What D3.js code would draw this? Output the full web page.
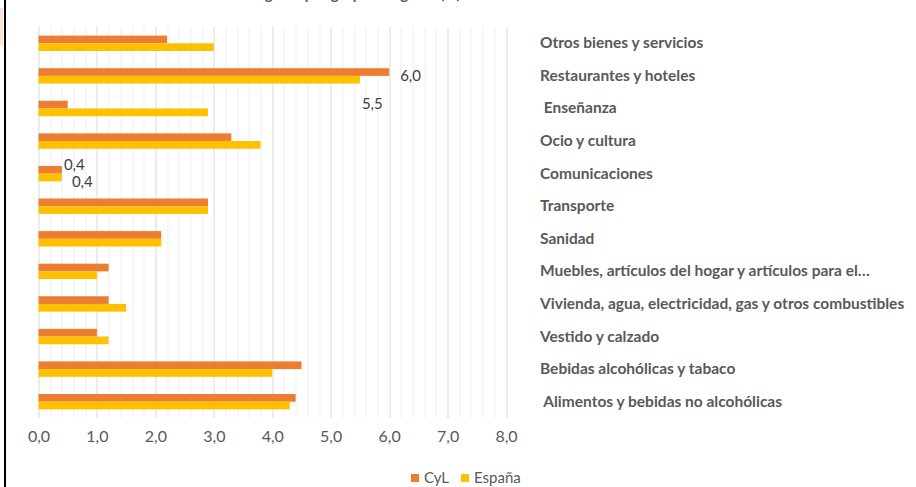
<!DOCTYPE html>
<html>
<head>
<meta charset="utf-8">
<script src="https://cdn.jsdelivr.net/npm/d3@7"></script>
<style>
  body { margin: 0; background: #fff; }
  svg { display: block; }
  .tick text { font-family: Lato, "Open Sans", sans-serif; font-size: 16px; fill: #595959; }
  .cat { font-family: Lato, "Open Sans", sans-serif; font-size: 15.5px; font-weight: bold; fill: #595959; }
  .lbl { font-family: Lato, "Open Sans", sans-serif; font-size: 15px; fill: #404040; }
</style>
</head>
<body>
<div id="graphic"></div>
<script>
// categories, top to bottom
var categories = ["Otros bienes y servicios", "Restaurantes y hoteles", " Enseñanza", "Ocio y cultura",
    "Comunicaciones", "Transporte", "Sanidad", "Muebles, artículos del hogar y artículos para el…",
    "Vivienda, agua, electricidad, gas y otros combustibles", "Vestido y calzado",
    "Bebidas alcohólicas y tabaco", " Alimentos y bebidas no alcohólicas"];
var cyl    = [2.2, 6.0, 0.5, 3.3, 0.4, 2.9, 2.1, 1.2, 1.2, 1.0, 4.5, 4.4];
var espana = [3.0, 5.5, 2.9, 3.8, 0.4, 2.9, 2.1, 1.0, 1.5, 1.2, 4.0, 4.3];
var seriesNames = ["CyL", "España"];
var colors = ["#ED7D31", "#FFC000"];
var xTicks = [0, 1, 2, 3, 4, 5, 6, 7, 8];
// data labels that are shown in the picture: [series, category index, dx, dy]
var shownLabels = [[0, 1, 11, 5], [1, 1, 2, 33], [0, 4, 2, -4], [1, 4, 10, 13]];

var W = 916, H = 487;
var margin = {top: 27, left: 38.5, right: 410, bottom: 69};
var width = W - margin.left - margin.right,
    height = H - margin.top - margin.bottom;

var svg = d3.select("#graphic").append("svg")
    .attr("width", W)
    .attr("height", H);

// bits of the page around the chart
svg.append("rect").attr("x", 0).attr("y", 8).attr("width", 3).attr("height", 37).attr("fill", "#fbe3d6");
svg.append("rect").attr("x", 4).attr("y", 0).attr("width", 2).attr("height", H).attr("fill", "#000");

// title, mostly cut off at the top edge
svg.append("text")
    .attr("x", 318).attr("y", -1)
    .attr("text-anchor", "middle")
    .attr("font-family", "Lato, sans-serif").attr("font-weight", "bold")
    .attr("font-size", 15).attr("fill", "#595959")
    .text("Variación del gasto por grupos de gasto (%)");

var canvas = svg.append("g")
    .attr("transform", "translate(" + margin.left + "," + margin.top + ")");

var x = d3.scaleLinear().domain([0, 8]).range([0, width]);
var y = d3.scaleBand().domain(d3.range(categories.length)).range([0, height]);

// minor grid
canvas.append("g").selectAll("line")
    .data(d3.range(0, 8.01, 0.2).filter(v => Math.abs(v - Math.round(v)) > 0.01))
    .enter().append("line")
    .attr("x1", d => Math.round(x(d)) + 0.5).attr("x2", d => Math.round(x(d)) + 0.5)
    .attr("y1", 0).attr("y2", height)
    .attr("stroke", "#efefef");

// major grid
canvas.append("g").selectAll("line")
    .data(xTicks)
    .enter().append("line")
    .attr("x1", d => Math.round(x(d)) + 0.5).attr("x2", d => Math.round(x(d)) + 0.5)
    .attr("y1", 0).attr("y2", height)
    .attr("stroke", "#d9d9d9");

var gx = canvas.append("g")
    .attr("transform", "translate(0," + height + ")")
    .call(d3.axisBottom(x).tickValues(xTicks).tickSize(0).tickPadding(13)
        .tickFormat(d => d3.format(".1f")(d).replace(".", ",")));
gx.select(".domain").remove();

var barH = 7.7;
var series = [cyl, espana];
series.forEach(function (vals, s) {
    canvas.append("g").selectAll("rect")
        .data(vals)
        .enter().append("rect")
        .attr("x", 0)
        .attr("y", (d, i) => y(i) + y.bandwidth() / 2 - barH + s * barH)
        .attr("height", barH)
        .attr("width", d => x(d))
        .attr("fill", colors[s]);
});

// value labels
canvas.selectAll(".lbl")
    .data(shownLabels)
    .enter().append("text")
    .attr("class", "lbl")
    .attr("x", d => x(series[d[0]][d[1]]) + d[2])
    .attr("y", d => y(d[1]) + y.bandwidth() / 2 + d[3])
    .text(d => d3.format(".1f")(series[d[0]][d[1]]).replace(".", ","));

// category names on the right
svg.append("g").selectAll("text")
    .data(categories)
    .enter().append("text")
    .attr("class", "cat")
    .attr("xml:space", "preserve")
    .style("white-space", "pre")
    .attr("x", 540)
    .attr("y", (d, i) => margin.top + y(i) + y.bandwidth() / 2 + 5)
    .text(d => d);

// legend
var legend = svg.append("g").attr("transform", "translate(411,478)");
var lx = [0, 50];
seriesNames.forEach(function (n, i) {
    legend.append("rect").attr("x", lx[i]).attr("y", -4).attr("width", 8).attr("height", 8).attr("fill", colors[i]);
    legend.append("text").attr("x", lx[i] + 13).attr("y", 5)
        .attr("font-family", "Lato, sans-serif").attr("font-size", 15).attr("fill", "#595959")
        .text(n);
});
</script>
</body>
</html>
